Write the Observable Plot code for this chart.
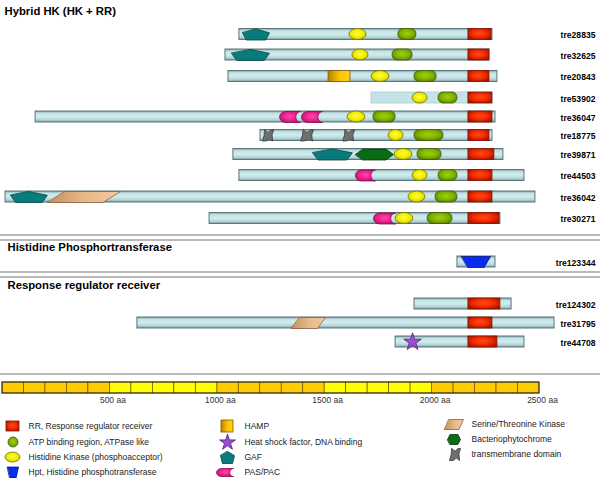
<!DOCTYPE html>
<html><head><meta charset="utf-8">
<script src="https://cdn.jsdelivr.net/npm/d3@7"></script>
<script src="https://cdn.jsdelivr.net/npm/@observablehq/plot@0.6"></script>
<style>body{margin:0;background:#fff} svg{display:block} #chart{width:600px}</style>
</head><body><div id="chart"></div>
<script>
// ---------------- DATA (positions in aa on the common aligned axis) ----------------
const sectionTitles = ["Hybrid HK (HK + RR)", "Histidine Phosphortransferase", "Response regulator receiver"];
const proteinIds = ["tre28835","tre32625","tre20843","tre53902","tre36047","tre18775","tre39871","tre44503","tre36042","tre30271","tre123344","tre124302","tre31795","tre44708"];
const proteinStart = [1103,1038,1052,1718,154,1201,1075,1103,14,964,2118,1918,628,1830];
const proteinEnd   = [2281,2267,2304,2281,2295,2281,2332,2430,2481,2318,2295,2370,2570,2430];
const partialProteins = ["tre53902"];

const rrDomains = [["tre28835",2169,2277],["tre32625",2169,2267],["tre20843",2169,2267],["tre53902",2169,2281],["tre36047",2169,2281],["tre18775",2169,2267],["tre39871",2169,2290],["tre44503",2169,2281],["tre36042",2169,2281],["tre30271",2169,2314],["tre124302",2169,2318],["tre31795",2169,2281],["tre44708",2169,2304]];
const hkDomains = [["tre28835",1615,1695],["tre32625",1629,1704],["tre20843",1718,1802],["tre53902",1909,1979],["tre36047",1606,1690],["tre18775",1797,1867],["tre39871",1825,1909],["tre44503",1909,1979],["tre36042",1890,1969],["tre30271",1830,1913]];
const atpDomains = [["tre28835",1843,1927],["tre32625",1816,1909],["tre20843",1918,2021],["tre53902",2030,2118],["tre36047",1727,1830],["tre18775",1918,2053],["tre39871",1932,2044],["tre44503",2030,2118],["tre36042",2016,2118],["tre30271",1979,2095]];
const gafDomains = [["tre28835",1117,1243],["tre32625",1066,1243],["tre39871",1443,1629],["tre36042",37,209]];
const pasDomains = [["tre36047",1290,1387],["tre36047",1392,1490],["tre44503",1643,1736],["tre30271",1727,1830]];
const hampDomains = [["tre20843",1518,1620]];
const tmDomains = [["tre18775",1210,1262],["tre18775",1387,1448],["tre18775",1583,1639]];
const bphyDomains = [["tre39871",1643,1820]];
const stkDomains = [["tre36042",209,549],["tre31795",1345,1504]];
const hptDomains = [["tre123344",2137,2272]];
const hsfDomains = [["tre44708",1872,1946]];

const scaleMax = 2500, scaleStep = 100;
const scaleTicks = [500,1000,1500,2000,2500];
const scaleTickLabels = ["500 aa","1000 aa","1500 aa","2000 aa","2500 aa"];

const legendKeys = ["RR","ATP","HK","HPT","HAMP","HSF","GAF","PAS","STK","BPHY","TM"];
const legendLabels = ["RR, Response regulator receiver","ATP binding region, ATPase like","Histidine Kinase (phosphoacceptor)","Hpt, Histidine phosphotransferase","HAMP","Heat shock factor, DNA binding","GAF","PAS/PAC","Serine/Threonine Kinase","Bacteriophytochrome","transmembrane domain"];

// ---------------- LAYOUT ----------------
const W = 600, H = 410, LH = 68;
const ROW_Y = [34,54.5,76,97.5,116.5,135,154,175,196.5,218,261.5,303.5,322.5,341.5];
const SECTION_Y = [11, 246.5, 284.5];
const SECTION_X = [4, 7, 7];
const DIVIDER_Y = [234.5, 239.5, 271.5, 276.5, 373.5];
const BAR_H = 5.5;
const SCALE_Y = [382, 393];
const LEGEND_ICON = [[6,19,16,5],[8,18,32,5],[5,20,47,5],[7,18,62,5.5],[221,233,16,6],[220,234,32,6],[220,234,47,6],[216,233,62,4],[444,463,14,5],[447,460,29,5],[449,460,44,6]];
const LEGEND_TEXT_X = [28,28,28,28,244,244,244,244,471,471,471];
const FONT = "'Liberation Sans', Arial, Helvetica, sans-serif";

// ---------------- SHAPES ----------------
const STYLE = {
  RR:   {fill:"url(#gRR)", stroke:"#8a1200"},
  HAMP: {fill:"url(#gHAMP)", stroke:"#7a5a00"},
  HK:   {fill:"url(#gHK)", stroke:"#7a7600", rx: 12, ry: 6},
  ATP:  {fill:"url(#gATP)", stroke:"#3f5f00", rx: 5, ry: 5},
  GAF:  {fill:"#087c7d", stroke:"#034545"},
  BPHY: {fill:"#0b6a16", stroke:"#033a08"},
  STK:  {fill:"url(#gSTK)", stroke:"#8a6040"},
  HPT:  {fill:"#0a2cf0", stroke:"#051a80"},
  TM:   {fill:"#6f6f6f", stroke:"#3a3a3a"},
  PAS:  {fill:"url(#gPAS)", stroke:"#8a0c4a"},
  HSF:  {fill:"#9a4fd2", stroke:"#4a1f72"}
};
function pasPts(h) {
  const pts = [], a = 0.3, d = 0.22;
  pts.push([a,-h],[1,-h]);
  for (let k=1;k<10;k++){ const t=-Math.PI/2+Math.PI*k/10; pts.push([1-d*Math.cos(t), h*Math.sin(t)]); }
  pts.push([1,h],[a,h]);
  for (let k=1;k<10;k++){ const t=Math.PI/2+Math.PI*k/10; pts.push([a+a*Math.cos(t), h*Math.sin(t)]); }
  return pts;
}
const POLY = {
  GAF:  h => [[0.5,-h],[1,-h*0.3],[0.86,h],[0.14,h],[0,-h*0.3]],
  BPHY: h => [[0,0],[0.2,-h],[0.8,-h],[1,0],[0.8,h],[0.2,h]],
  STK:  h => [[0.24,-h],[1,-h],[0.76,h],[0,h]],
  HPT:  h => [[0,-h],[1,-h],[0.78,h],[0.22,h]],
  TM:   h => [[0.22,-h],[0.5,-h*0.55],[0.78,-h],[1,-h],[0.86,-h*0.1],[0.92,h],[0.62,h*0.6],[0.32,h],[0,h],[0.14,h*0.1]],
  PAS:  pasPts
};
// items: {kind, x0, x1, y, h}
function shapeMarks(items, starR) {
  const marks = [];
  const order = ["HAMP","RR","GAF","BPHY","STK","HPT","TM","PAS","ATP","HK","HSF"];
  for (const kind of order) {
    const its = items.filter(d => d.kind === kind);
    if (!its.length) continue;
    const s = STYLE[kind];
    if (POLY[kind]) {
      const pts = its.flatMap((d, i) => POLY[kind](d.h).map(([fx, fy]) => ({id: kind + i, x: d.x0 + fx * (d.x1 - d.x0), y: d.y + fy})));
      marks.push(Plot.line(pts, {x:"x", y:"y", z:"id", fill:s.fill, stroke:s.stroke, strokeWidth:0.8, curve:"linear-closed"}));
    } else if (kind === "HSF") {
      marks.push(Plot.dot(its, {x: d => (d.x0 + d.x1) / 2, y:"y", symbol:"star", r:starR, fill:s.fill, stroke:s.stroke, strokeWidth:0.8}));
    } else {
      const o = {x1:"x0", x2:"x1", y1: d => d.y - d.h, y2: d => d.y + d.h, fill:s.fill, stroke:s.stroke, strokeWidth:0.8};
      if (s.rx) { o.rx = s.rx; o.ry = s.ry; }
      marks.push(Plot.rect(its, o));
    }
  }
  return marks;
}

// ---------------- BUILD MAIN ----------------
const rowOf = p => ROW_Y[proteinIds.indexOf(p)];
const proteins = proteinIds.map((id, i) => ({id, start: proteinStart[i], end: proteinEnd[i], y: ROW_Y[i], light: partialProteins.includes(id)}));
const domainSets = {RR: rrDomains, HK: hkDomains, ATP: atpDomains, GAF: gafDomains, PAS: pasDomains, HAMP: hampDomains, TM: tmDomains, BPHY: bphyDomains, STK: stkDomains, HPT: hptDomains, HSF: hsfDomains};
const domainItems = Object.entries(domainSets).flatMap(([kind, arr]) => arr.map(([p, a, b]) => ({kind, x0: a, x1: b, y: rowOf(p), h: BAR_H})));
const blocks = d3.range(0, scaleMax, scaleStep);
const titles = sectionTitles.map((t, i) => ({t, y: SECTION_Y[i], dx: SECTION_X[i]}));

const main = Plot.plot({
  width: W, height: H, margin: 0,
  x: {domain: [0, 2500], range: [2, 539], axis: null},
  y: {domain: [0, H], range: [0, H], axis: null},
  style: {fontFamily: FONT, background: "white", overflow: "visible"},
  marks: [
    Plot.ruleY(DIVIDER_Y, {stroke: "#777", strokeWidth: 1.2}),
    ...titles.map(d => Plot.text([d], {y: "y", text: "t", frameAnchor: "left", dx: d.dx, textAnchor: "start", fontWeight: "bold", fontSize: 11.3, fill: "#000"})),
    Plot.rect(proteins.filter(d => !d.light), {x1: "start", x2: "end", y1: d => d.y - BAR_H, y2: d => d.y + BAR_H, fill: "url(#gBar)", stroke: "#5a777a", strokeWidth: 1}),
    Plot.rect(proteins.filter(d => d.light), {x1: "start", x2: "end", y1: d => d.y - BAR_H, y2: d => d.y + BAR_H, fill: "#c6e4e8", stroke: "#a4c8cc", strokeWidth: 0.8}),
    ...shapeMarks(domainItems, 5.5),
    Plot.text(proteins, {y: d => d.y + 1, text: "id", frameAnchor: "right", dx: -5, textAnchor: "end", fontSize: 8.6, fontWeight: "bold", fill: "#000"}),
    Plot.rect(blocks.filter(d => Math.floor(d / 500) % 2 === 0), {x1: d => d, x2: d => d + scaleStep, y1: SCALE_Y[0], y2: SCALE_Y[1], fill: "#ffcc00", stroke: "#6b5200", strokeWidth: 0.7}),
    Plot.rect(blocks.filter(d => Math.floor(d / 500) % 2 === 1), {x1: d => d, x2: d => d + scaleStep, y1: SCALE_Y[0], y2: SCALE_Y[1], fill: "#ffff00", stroke: "#6b5200", strokeWidth: 0.7}),
    Plot.rect([scaleMax], {x1: 0, x2: d => d, y1: SCALE_Y[0], y2: SCALE_Y[1], fill: "none", stroke: "#222", strokeWidth: 1}),
    Plot.text(scaleTicks, {x: d => d, y: 400, text: (d, i) => scaleTickLabels[i], dx: 3, fontSize: 8.5, fill: "#333"})
  ]
});

// ---------------- BUILD LEGEND ----------------
const legendItems = legendKeys.map((kind, i) => ({kind, x0: LEGEND_ICON[i][0], x1: LEGEND_ICON[i][1], y: LEGEND_ICON[i][2], h: LEGEND_ICON[i][3]}));
const legend = Plot.plot({
  width: W, height: LH, margin: 0,
  x: {domain: [0, W], range: [0, W], axis: null},
  y: {domain: [0, LH], range: [0, LH], axis: null},
  style: {fontFamily: FONT, background: "white"},
  marks: [
    ...shapeMarks(legendItems, 5),
    Plot.text(legendLabels, {x: (d, i) => LEGEND_TEXT_X[i], y: (d, i) => LEGEND_ICON[i][2], text: d => d, textAnchor: "start", fontSize: 8.5, fill: "#222"})
  ]
});

// ---------------- GRADIENTS ----------------
const defs = d3.select(main).insert("defs", ":first-child");
function lin(id, stops, horizontal) {
  const g = defs.append("linearGradient").attr("id", id).attr("x1", 0).attr("y1", 0).attr("x2", horizontal ? 1 : 0).attr("y2", horizontal ? 0 : 1);
  stops.forEach(([o, c]) => g.append("stop").attr("offset", o).attr("stop-color", c));
}
function rad(id, stops) {
  const g = defs.append("radialGradient").attr("id", id).attr("cx", 0.5).attr("cy", 0.45).attr("r", 0.6);
  stops.forEach(([o, c]) => g.append("stop").attr("offset", o).attr("stop-color", c));
}
lin("gBar", [[0, "#7f9ea2"], [0.2, "#c3e1e4"], [0.5, "#d2eced"], [0.8, "#b3d5d8"], [1, "#7f9ea2"]], false);
rad("gRR", [[0, "#ff4a14"], [0.55, "#f02c00"], [1, "#a81400"]]);
rad("gHK", [[0, "#ffff3a"], [0.6, "#f0ea00"], [1, "#c2b800"]]);
rad("gATP", [[0, "#a0d010"], [0.6, "#80b000"], [1, "#527c00"]]);
rad("gPAS", [[0, "#ff4aa8"], [0.6, "#e8208a"], [1, "#b80c64"]]);
lin("gHAMP", [[0, "#b88200"], [0.55, "#ffc400"], [1, "#ffd21a"]], true);
lin("gSTK", [[0, "#c4905e"], [0.5, "#e8b888"], [1, "#f4caa0"]], true);

const root = document.getElementById("chart");
root.appendChild(main);
root.appendChild(legend);
</script>
</body></html>
